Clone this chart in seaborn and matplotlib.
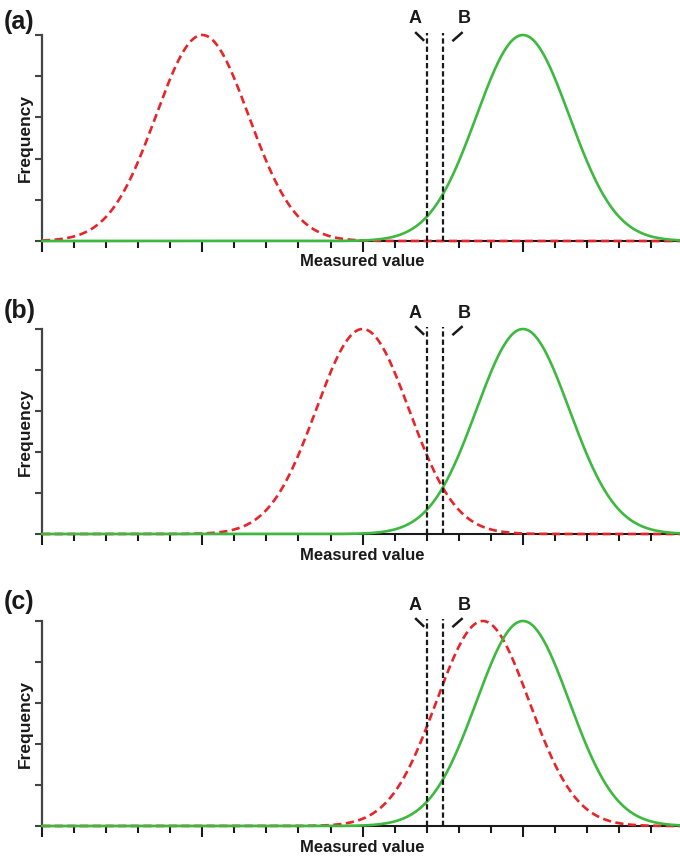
import numpy as np
import pandas as pd
import matplotlib
matplotlib.use("Agg")
import matplotlib.pyplot as plt
import seaborn as sns

# ---- data ----
panel_labels = ["(a)", "(b)", "(c)"]
red_means = [5.0, 10.0, 13.75]      # dashed red distribution centre per panel
green_means = [15.0, 15.0, 15.0]    # solid green distribution centre per panel
spread = 1.45                       # common standard deviation
threshold_names = ["A", "B"]
threshold_values = [12.0, 12.5]
x_min, x_max = 0.0, 19.9
y_ticks = [0.0, 0.2, 0.4, 0.6, 0.8, 1.0]

sns.set_theme(style="ticks")
plt.rcParams["font.family"] = ["Liberation Sans", "DejaVu Sans"]

RED = "#e8242a"
GREEN = "#3db93f"
INK = "#1a1a1a"

fig = plt.figure(figsize=(6.8, 8.56), dpi=100)
W, H = 680.0, 856.0
# axes pixel boxes (left, top, right, bottom) in figure pixels
boxes = [(42, 35, 680, 241), (42, 329, 680, 534), (42, 621, 680, 826)]
label_y = [21.7, 310.7, 601.7]

grid = np.linspace(x_min, x_max, 800)


def normal_curve(mu, sd):
    return np.exp(-0.5 * ((grid - mu) / sd) ** 2)


for i, (l, t, r, b) in enumerate(boxes):
    ax = fig.add_axes([l / W, 1 - b / H, (r - l) / W, (b - t) / H])
    df = pd.DataFrame({
        "x": np.concatenate([grid, grid]),
        "y": np.concatenate([normal_curve(red_means[i], spread),
                             normal_curve(green_means[i], spread)]),
        "group": ["red"] * len(grid) + ["green"] * len(grid),
    })
    sns.lineplot(data=df[df.group == "red"], x="x", y="y", ax=ax,
                 color=RED, linewidth=1.9)
    red_line = ax.lines[-1]
    red_line.set_dashes((3.1, 1.7))
    red_line.set_zorder(4)
    red_line.set_clip_on(False)
    sns.lineplot(data=df[df.group == "green"], x="x", y="y", ax=ax,
                 color=GREEN, linewidth=1.9)
    green_line = ax.lines[-1]
    green_line.set_zorder(5)
    green_line.set_clip_on(False)

    # threshold lines
    for name, v in zip(threshold_names, threshold_values):
        ax.plot([v, v], [0, 1.012], color=INK, linewidth=1.6,
                dashes=(2.4, 1.3), zorder=6, clip_on=False)
    a, bb = threshold_values
    ax.plot([a - 0.36, a - 0.08], [1.014, 0.972], color=INK, lw=1.8,
            clip_on=False, solid_capstyle="butt")
    ax.plot([bb + 0.30, bb + 0.62], [0.970, 1.014], color=INK, lw=1.8,
            clip_on=False, solid_capstyle="butt")
    ax.text(a - 0.37, 1.078, threshold_names[0], ha="center", va="center",
            fontsize=13, fontweight="bold", color=INK)
    ax.text(bb + 0.66, 1.078, threshold_names[1], ha="center", va="center",
            fontsize=13, fontweight="bold", color=INK)

    ax.set_xlim(x_min, x_max)
    ax.set_ylim(0, 1.0)
    ax.set_xticks([0, 5, 10, 15])
    ax.set_xticks(np.arange(0, 20, 1), minor=True)
    ax.set_yticks(y_ticks)
    ax.set_xticklabels([])
    ax.set_yticklabels([])
    ax.tick_params(axis="x", which="major", length=8, width=1.5,
                   color=INK, direction="out")
    ax.tick_params(axis="x", which="minor", length=5, width=1.5,
                   color=INK, direction="out")
    ax.tick_params(axis="y", which="major", length=5, width=1.5,
                   color="#444444", direction="out")
    sns.despine(ax=ax, top=True, right=True)
    ax.spines["left"].set_color("#444444")
    ax.spines["left"].set_linewidth(1.6)
    ax.spines["bottom"].set_color(INK)
    ax.spines["bottom"].set_linewidth(1.5)
    ax.set_xlabel("")
    ax.set_ylabel("")
    ax.patch.set_alpha(0)

    ax.text(-17 / (r - l), 0.5, "Frequency", rotation=90, transform=ax.transAxes,
            ha="center", va="center", fontsize=12.5, fontweight="bold", color=INK)
    ax.text(10, -21 / (b - t), "Measured value", transform=ax.get_xaxis_transform(),
            ha="center", va="center", fontsize=12, fontweight="bold", color=INK)
    fig.text(4 / W, 1 - label_y[i] / H, panel_labels[i], ha="left", va="center",
             fontsize=18, fontweight="bold", color=INK)

fig.savefig("out.png", dpi=100, facecolor="white")
